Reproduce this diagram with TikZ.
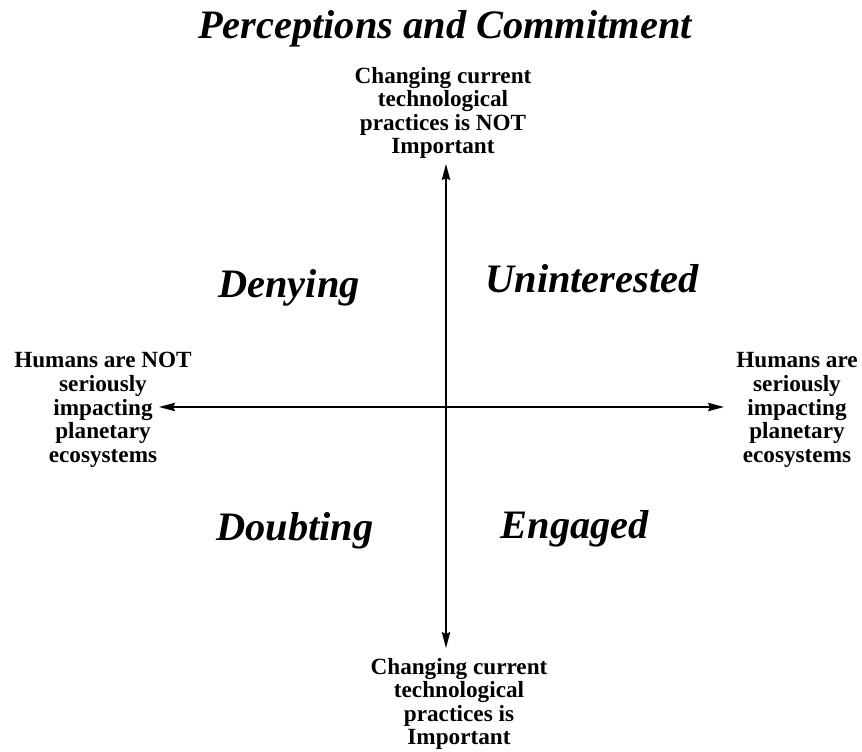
\documentclass[tikz,border=0pt]{standalone}
\usepackage{fontspec}
\setmainfont{Liberation Serif}
\usetikzlibrary{arrows.meta,positioning}

\begin{document}
\begin{tikzpicture}[
  x=0.5pt, y=-0.5pt,
  pole/.style={align=center, inner sep=1pt, font=\bfseries\fontsize{11.6}{11.8}\selectfont},
  quad/.style={anchor=base, font=\bfseries\itshape\fontsize{20.2}{24}\selectfont},
  axis/.style={line width=0.75pt, {Stealth[length=8pt,width=4.2pt,inset=1pt]}-{Stealth[length=8pt,width=4.2pt,inset=1pt]}},
  >=Stealth]
  \useasboundingbox (0,0) rectangle (862,751);
  % title
  \node[quad] (title) at (445,38) {Perceptions and Commitment};
  % ends of the two axes
  \coordinate (top) at (446,164);
  \coordinate (bot) at (446,648);
  \coordinate (lft) at (159,407);
  \coordinate (rgt) at (724,407);
  % pole labels
  \node[pole] (notimp) at (443,113) {Changing current\\technological\\practices is NOT\\Important};
  \node[pole] (imp) at (459,704) {Changing current\\technological\\practices is\\Important};
  \node[pole] (nothum) at (103,410) {Humans are NOT\\seriously\\impacting\\planetary\\ecosystems};
  \node[pole] (hum) at (797,410) {Humans are\\seriously\\impacting\\planetary\\ecosystems};
  % quadrants
  \node[quad] (deny) at (289,297) {Denying};
  \node[quad] (unint) at (592,292) {Uninterested};
  \node[quad] (doubt) at (295,540) {Doubting};
  \node[quad] (eng) at (575,538) {Engaged};
  \draw[axis] (top) -- (bot);
  \draw[axis] (lft) -- (rgt);
\end{tikzpicture}
\end{document}
